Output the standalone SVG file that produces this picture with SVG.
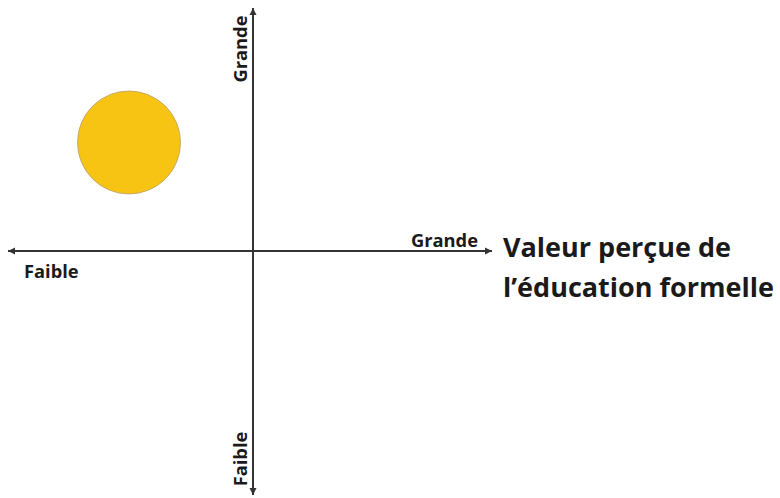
<svg xmlns="http://www.w3.org/2000/svg" width="780" height="498" viewBox="0 0 780 498">
<defs>
<style>
.ax{stroke:#333;stroke-width:1.8;fill:none}
.lbl{font-family:"Open Sans",sans-serif;font-weight:bold;font-size:18.3px;fill:#1a1a1a}
.ttl{font-family:"Open Sans",sans-serif;font-weight:bold;font-size:27px;fill:#1a1a1a}
</style>
<marker id="arr" markerWidth="10" markerHeight="10" refX="8" refY="5" orient="auto" markerUnits="userSpaceOnUse">
<path d="M1,1.5 L8,5 L1,8.5 Z" fill="#333"/>
</marker>
</defs>
<rect width="780" height="498" fill="#fff"/>
<g id="connectors">
<line class="ax" x1="253" y1="495" x2="253" y2="8" marker-end="url(#arr)"/>
<line class="ax" x1="253" y1="8" x2="253" y2="495" marker-end="url(#arr)"/>
<line class="ax" x1="8" y1="251" x2="492" y2="251" marker-end="url(#arr)"/>
<line class="ax" x1="492" y1="251" x2="8" y2="251" marker-end="url(#arr)"/>
</g>
<g id="circle">
<circle cx="129" cy="142.5" r="51.5" fill="#F8C413" stroke="#b8a070" stroke-width="0.8"/>
</g>
<g id="labels">
<text class="lbl" text-anchor="middle" transform="translate(247,49) rotate(-90)">Grande</text>
<text class="lbl" text-anchor="middle" transform="translate(247,459) rotate(-90)">Faible</text>
<text class="lbl" x="24" y="278">Faible</text>
<text class="lbl" x="411" y="247">Grande</text>
</g>
<g id="title">
<text class="ttl" x="503" y="257">Valeur perçue de</text>
<text class="ttl" x="503" y="297">l’éducation formelle</text>
</g>
</svg>
